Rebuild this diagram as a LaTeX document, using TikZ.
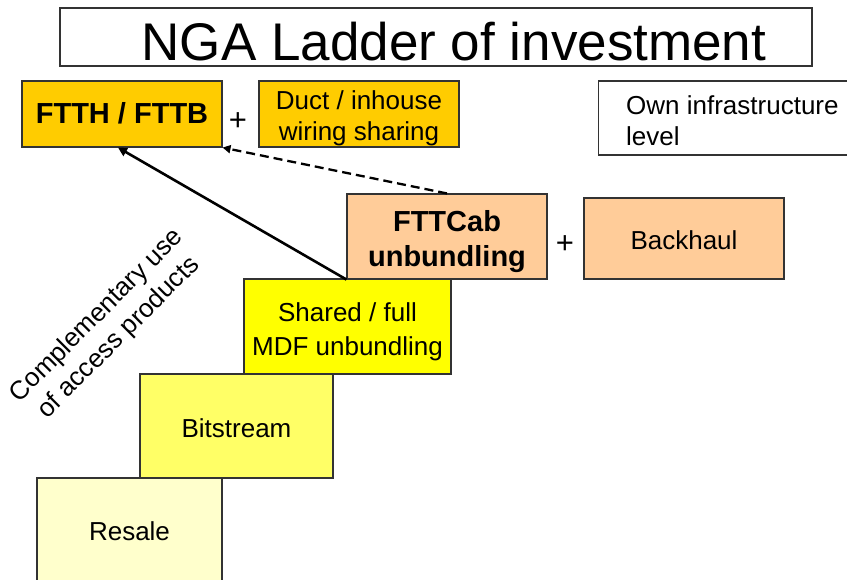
\documentclass[tikz,border=0pt]{standalone}
\usepackage{fontspec}
\setmainfont{Liberation Sans}
\usetikzlibrary{arrows.meta}
\begin{document}
\begin{tikzpicture}[x=1pt,y=-1pt,
  box/.style={draw=black!80, line width=1.1pt, inner sep=0pt},
  txt/.style={inner sep=0pt, align=center, font=\fontsize{26}{31}\selectfont},
  boldtxt/.style={txt, font=\fontsize{29}{35}\bfseries\selectfont},
  plus/.style={inner sep=0pt, font=\fontsize{31}{31}\selectfont},
  gold/.style={fill={rgb,255:red,255;green,204;blue,0}},
  peach/.style={fill={rgb,255:red,255;green,204;blue,153}},
  solidarrow/.style={line width=2.6pt, -{Triangle[length=9pt,width=9pt]}},
  dasharrow/.style={line width=2.3pt, dash pattern=on 9pt off 5pt, -{Triangle[length=8pt,width=8pt]}}
]
\useasboundingbox (0,0) rectangle (847,580);
\clip (0,0) rectangle (847,580);

% heading
\node[box, minimum width=752pt, minimum height=58pt] (title) at (436,37) {};
\node[txt, font=\fontsize{53}{60}\selectfont] (titletext) at (454,42) {NGA Ladder of investment};

% top row: fibre to the home / building
\node[box, gold, minimum width=200pt, minimum height=66pt] (ftth) at (122,114) {};
\node[boldtxt] (ftthtext) at (122,113) {FTTH / FTTB};
\node[plus] (plus1) at (238,122) {+};
\node[box, gold, minimum width=200pt, minimum height=66pt] (duct) at (359,114) {};
\node[txt] (ducttext) at (359,118) {Duct / inhouse\\wiring sharing};

% legend box, running past the right edge
\node[box, anchor=west, minimum width=280pt, minimum height=74pt] (own) at (598,118) {};
\node[txt, align=left, anchor=west] (owntext) at (626,121) {Own infrastructure\\level};

% cabinet level
\node[box, peach, minimum width=200pt, minimum height=85pt] (ftc) at (447,236.5) {};
\node[boldtxt] (ftctext) at (447,241.5) {FTTCab\\unbundling};
\node[plus] (plus2) at (565,245) {+};
\node[box, peach, minimum width=200pt, minimum height=81pt] (back) at (684,238.5) {};
\node[txt] (backtext) at (684,240.5) {Backhaul};

% the ladder steps
\node[box, fill={rgb,255:red,255;green,255;blue,0}, minimum width=207pt, minimum height=95pt] (mdf) at (347.5,326.5) {};
\node[txt, font=\fontsize{26}{34}\selectfont] (mdftext) at (347.5,331.5) {Shared / full\\MDF unbundling};
\node[box, fill={rgb,255:red,255;green,255;blue,102}, minimum width=193pt, minimum height=104pt] (bit) at (236.5,426) {};
\node[txt] (bittext) at (236.5,428) {Bitstream};
\node[box, fill={rgb,255:red,255;green,255;blue,204}, minimum width=185pt, minimum height=106pt] (resale) at (129.5,531) {};
\node[txt] (resaletext) at (129.5,531) {Resale};

% diagonal caption
\node[txt, rotate=45] (compl) at (108,327) {Complementary use\\of access products};

% connectors
\draw[solidarrow] (ftc.south west) -- ([xshift=-4pt]ftth.south);
\draw[dasharrow] (ftc.north) -- (ftth.south east);
\end{tikzpicture}
\end{document}
